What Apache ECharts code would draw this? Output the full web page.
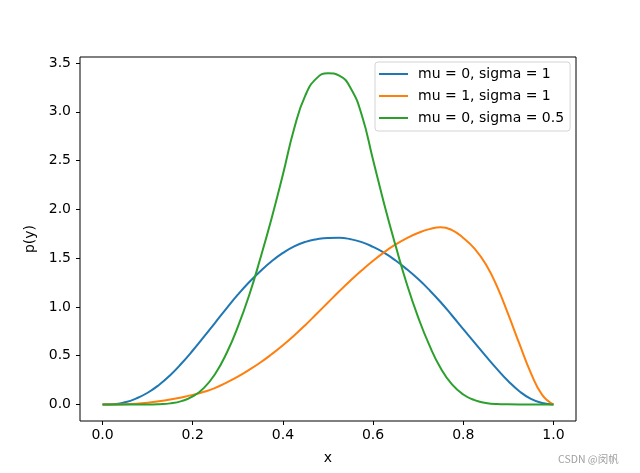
<!DOCTYPE html>
<html>
<head>
<meta charset="utf-8">
<script src="https://cdn.jsdelivr.net/npm/echarts@6/dist/echarts.min.js"></script>
<style>
html,body{margin:0;padding:0;background:#fff;}
#chart{width:640px;height:473px;}
</style>
</head>
<body>
<div id="chart"></div>
<script>
// x positions of the sampled points
const xs = [0,0.025,0.05,0.075,0.1,0.125,0.15,0.175,0.2,0.225,0.25,0.275,0.3,0.325,0.35,0.375,0.4,0.425,0.45,0.475,0.5,0.525,0.55,0.575,0.6,0.625,0.65,0.675,0.7,0.725,0.75,0.775,0.8,0.825,0.85,0.875,0.9,0.925,0.95,0.975,1.0];
// mu = 0, sigma = 1
const blue = [0,0.002,0.022,0.062,0.12,0.2,0.3,0.42,0.553,0.695,0.84,0.985,1.125,1.252,1.365,1.467,1.553,1.621,1.667,1.694,1.707,1.708,1.694,1.664,1.615,1.553,1.475,1.385,1.285,1.172,1.048,0.912,0.772,0.633,0.495,0.362,0.238,0.133,0.057,0.014,0];
// mu = 1, sigma = 1
const orange = [0,0,0.002,0.008,0.018,0.032,0.050,0.072,0.098,0.130,0.170,0.224,0.285,0.354,0.430,0.515,0.607,0.707,0.815,0.930,1.045,1.160,1.270,1.375,1.473,1.562,1.640,1.706,1.758,1.797,1.817,1.787,1.707,1.597,1.437,1.208,0.920,0.615,0.322,0.099,0];
// mu = 0, sigma = 0.5
const green = [0,0,0,0,0,0.003,0.011,0.034,0.082,0.170,0.315,0.525,0.795,1.117,1.498,1.909,2.357,2.829,3.170,3.345,3.396,3.371,3.245,2.965,2.506,2.048,1.626,1.232,0.893,0.605,0.370,0.205,0.102,0.044,0.016,0.004,0.001,0,0,0,0];

const names = ['mu = 0, sigma = 1', 'mu = 1, sigma = 1', 'mu = 0, sigma = 0.5'];
const colors = ['#1f77b4', '#ff7f0e', '#2ca02c'];
const xTicks = [0, 0.2, 0.4, 0.6, 0.8, 1.0];
const yTicks = [0, 0.5, 1.0, 1.5, 2.0, 2.5, 3.0, 3.5];

const pair = arr => xs.map((x, i) => [x, arr[i]]);
const font = 'DejaVu Sans';

const chart = echarts.init(document.getElementById('chart'), null, {renderer: 'canvas'});
chart.setOption({
  animation: false,
  backgroundColor: '#fff',
  grid: {left: 80, right: 64, top: 57, bottom: 52, show: true, borderColor: '#000', borderWidth: 1, backgroundColor: 'transparent'},
  xAxis: {
    type: 'value', min: -0.05, max: 1.05,
    name: 'x', nameLocation: 'middle', nameGap: 30,
    nameTextStyle: {fontFamily: font, fontSize: 14, color: '#000'},
    axisLine: {show: false, onZero: false},
    axisTick: {show: true, inside: false, length: 4, customValues: xTicks, lineStyle: {color: '#000', width: 1}},
    axisLabel: {customValues: xTicks, margin: 7, fontFamily: font, fontSize: 14, color: '#000', formatter: v => v.toFixed(1)},
    splitLine: {show: false}
  },
  yAxis: {
    type: 'value', min: -0.1696, max: 3.5616,
    name: 'p(y)', nameLocation: 'middle', nameGap: 30,
    nameTextStyle: {fontFamily: font, fontSize: 14, color: '#000'},
    axisLine: {show: false, onZero: false},
    axisTick: {show: true, inside: false, length: 4, customValues: yTicks, lineStyle: {color: '#000', width: 1}},
    axisLabel: {customValues: yTicks, margin: 9, fontFamily: font, fontSize: 14, color: '#000', formatter: v => v.toFixed(1)},
    splitLine: {show: false}
  },
  legend: {
    orient: 'vertical', left: 375, top: 62,
    data: names,
    icon: 'rect', itemWidth: 29, itemHeight: 2, itemGap: 8,
    padding: [5, 6, 6, 4],
    borderColor: '#d4d4d4', borderWidth: 1, borderRadius: 3,
    backgroundColor: 'rgba(255,255,255,0.8)',
    textStyle: {fontFamily: font, fontSize: 14, color: '#000', padding: [0, 0, 0, 5]}
  },
  graphic: [{
    type: 'text', left: 558, top: 454,
    style: {text: 'CSDN @闵帆', fill: '#a0a0a0', font: '10.5px "Noto Sans CJK SC"'}
  }],
  series: [
    {name: names[0], type: 'line', data: pair(blue), color: colors[0], showSymbol: false, symbol: 'none', smooth: 0.5, lineStyle: {width: 2, color: colors[0]}},
    {name: names[1], type: 'line', data: pair(orange), color: colors[1], showSymbol: false, symbol: 'none', smooth: 0.5, lineStyle: {width: 2, color: colors[1]}},
    {name: names[2], type: 'line', data: pair(green), color: colors[2], showSymbol: false, symbol: 'none', smooth: 0.5, lineStyle: {width: 2, color: colors[2]}}
  ]
});
</script>
</body>
</html>
